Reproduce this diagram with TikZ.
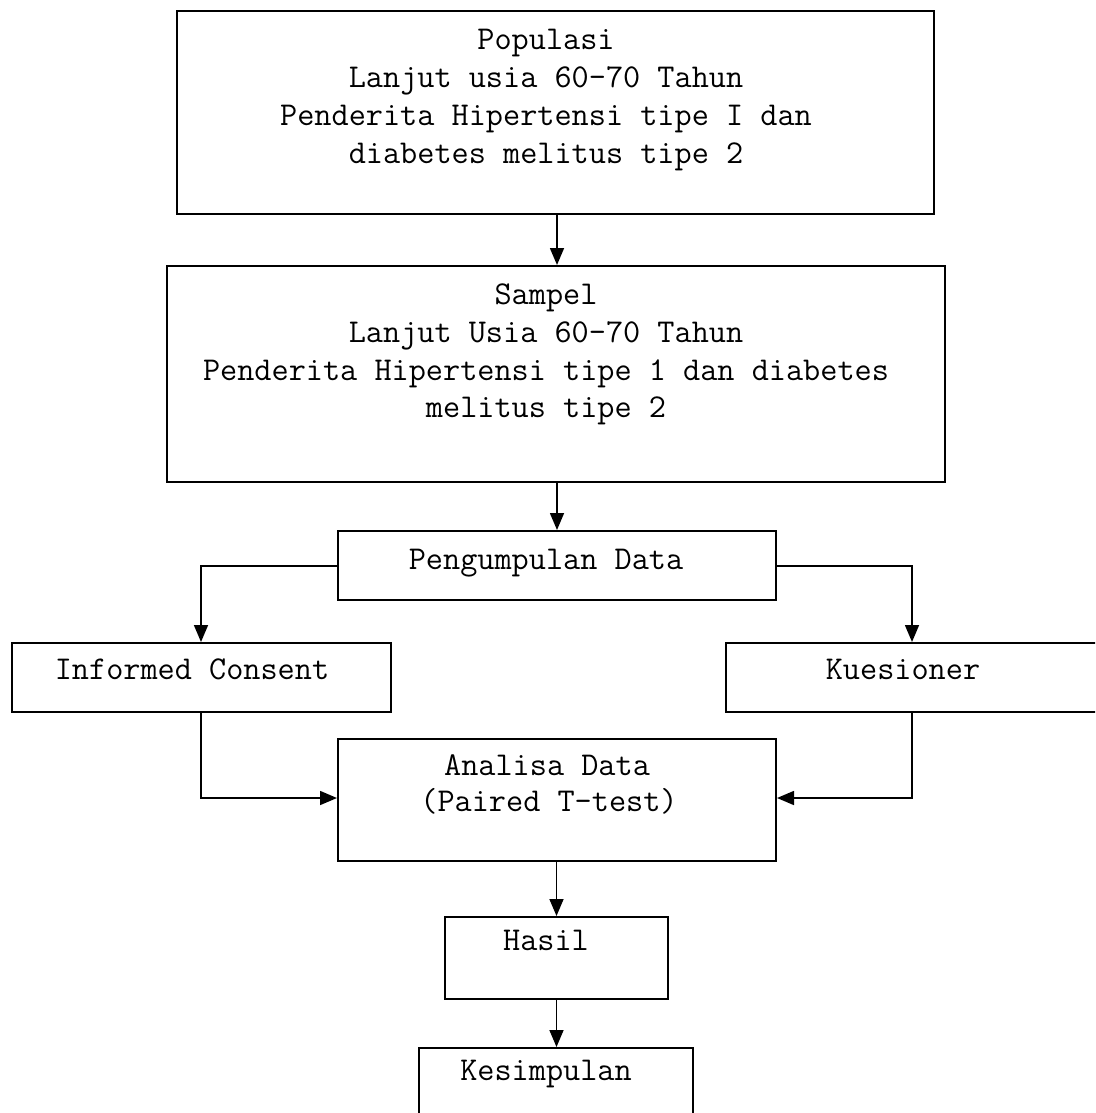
\documentclass[tikz,border=0pt]{standalone}
\usepackage{fontspec}
\usetikzlibrary{arrows.meta}
\begin{document}
\begin{tikzpicture}[x=1pt,y=-1pt,
  boxstyle/.style={draw, line width=2pt, rectangle, inner sep=0pt},
  txt/.style={font=\ttfamily\fontsize{33.3}{37}\selectfont, inner sep=0pt, anchor=mid},
  arr/.style={line width=1.6pt, -{Triangle[length=17pt,width=14pt]}}]
\useasboundingbox (0,0) rectangle (1095,1113);
\clip (0,0) rectangle (1095,1113);
% boxes
\node[boxstyle, minimum width=757pt, minimum height=203pt] (pop) at (555.5,112.5) {};
\node[boxstyle, minimum width=778pt, minimum height=216pt] (sam) at (556,374) {};
\node[boxstyle, minimum width=438pt, minimum height=69pt] (pen) at (557,565.5) {};
\node[boxstyle, minimum width=379pt, minimum height=69pt] (ic) at (201.5,677.5) {};
\node[boxstyle, minimum width=390pt, minimum height=69pt] (kue) at (921,677.5) {};
\node[boxstyle, minimum width=438pt, minimum height=122pt] (ana) at (557,800) {};
\node[boxstyle, minimum width=223pt, minimum height=82pt] (has) at (556.5,958) {};
\node[boxstyle, minimum width=274pt, minimum height=120pt] (kes) at (556,1108) {};
% texts
\node[txt] (t1) at (546,47) {Populasi};
\node[txt] (t2) at (546,85) {Lanjut usia 60-70 Tahun};
\node[txt] (t3) at (546,123) {Penderita Hipertensi tipe I dan};
\node[txt] (t4) at (546,161) {diabetes melitus tipe 2};
\node[txt] (s1) at (546,302) {Sampel};
\node[txt] (s2) at (546,340) {Lanjut Usia 60-70 Tahun};
\node[txt] (s3) at (546,378) {Penderita Hipertensi tipe 1 dan diabetes};
\node[txt] (s4) at (546,415) {melitus tipe 2};
\node[txt] (pt) at (546,567) {Pengumpulan Data};
\node[txt] (ict) at (192,677) {Informed Consent};
\node[txt] (kt) at (903,677) {Kuesioner};
\node[txt] (a1) at (547,773) {Analisa Data};
\node[txt] (a2) at (549,809) {(Paired T-test)};
\node[txt] (ht) at (546,948) {Hasil};
\node[txt] (kst) at (546,1078) {Kesimpulan};
% connectors
\draw[arr] (557,214) -- (sam.north -| 557,0);
\draw[arr] (pen.north |- sam.south) -- (pen.north);
\coordinate (lc) at (201,566);
\coordinate (rc) at (912,566);
\draw[arr] (pen.west |- lc) -- (lc) -- (ic.north -| lc);
\draw[arr] (pen.east |- rc) -- (rc) -- (kue.north -| rc);
\coordinate (lb) at (201,798);
\coordinate (rb) at (912,798);
\draw[arr] (ic.south -| lb) -- (lb) -- (ana.west |- lb);
\draw[arr] (kue.south -| rb) -- (rb) -- (ana.east |- rb);
\draw[arr] (ana.south -| has.north) -- (has.north);
\draw[arr] (has.south) -- (has.south |- kes.north);
\end{tikzpicture}
\end{document}
